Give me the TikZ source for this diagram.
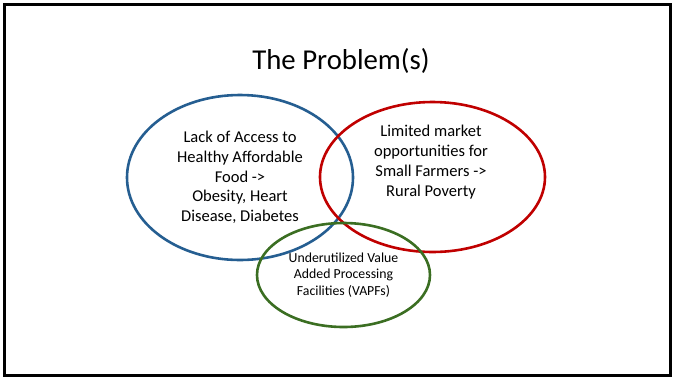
\documentclass[tikz,border=0pt]{standalone}
\usepackage{fontspec}
\setmainfont{Carlito}
\definecolor{cblue}{HTML}{255E91}
\definecolor{cred}{HTML}{C00000}
\definecolor{cgreen}{HTML}{3B6E22}
\tikzset{
  ring/.style={line width=2.6pt},
  bodytext/.style={align=center, font=\fontsize{16.5}{19.8}\selectfont, inner sep=0pt},
  smalltext/.style={align=center, font=\fontsize{13.8}{16.5}\selectfont, inner sep=0pt},
}
\begin{document}
\begin{tikzpicture}[x=1pt,y=-1pt]
\useasboundingbox (0,0) rectangle (673,376);
\draw[line width=3pt] (4.5,4.5) rectangle (670.5,375.5);
\node[font=\fontsize{28.8}{34}\selectfont, inner sep=0pt] (title) at (341,61) {The Problem(s)};
\draw[ring, cblue] (240,177.5) ellipse [x radius=113, y radius=82.5];
\draw[ring, cred] (432.5,177) ellipse [x radius=112.5, y radius=75];
\draw[ring, cgreen] (343.5,275) ellipse [x radius=86.5, y radius=52];
\node[bodytext] (blue) at (240,177.5) {Lack of Access to\\Healthy Affordable\\Food ->\\Obesity, Heart\\Disease, Diabetes};
\node[bodytext] (red) at (431,162) {Limited market\\opportunities for\\Small Farmers ->\\Rural Poverty};
\node[smalltext] (green) at (343.5,275) {Underutilized Value\\Added Processing\\Facilities (VAPFs)};
\end{tikzpicture}
\end{document}
